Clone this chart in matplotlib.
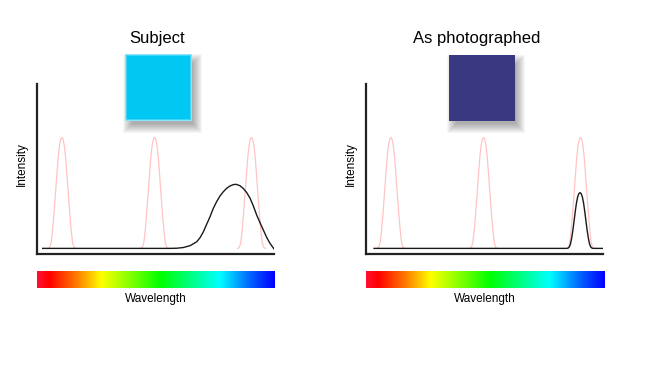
import matplotlib
matplotlib.use("Agg")
import matplotlib.pyplot as plt
import numpy as np
from matplotlib.patches import Rectangle
from matplotlib.colors import LinearSegmentedColormap

plt.rcParams['font.family'] = ['Liberation Sans', 'DejaVu Sans']

# data (wavelength 0-100, intensity 0-100)
titles = ["Subject", "As photographed"]
swatch_colors = ["#00c8f2", "#3a3880"]

# three narrow filter curves (pink), same shape at each center
filter_centers = [10.5, 49.6, 90.5]
filter_offsets = [-6, -5.5, -5, -4.5, -4, -3.5, -3, -2.5, -2, -1.5, -1, -0.5, 0,
                  0.5, 1, 1.5, 2, 2.5, 3, 3.5, 4, 4.5, 5, 5.5, 6]
filter_levels = [3.3, 3.5, 4.3, 7, 13, 21, 30, 39.5, 49, 58, 64, 67.5, 68.6,
                 67.5, 64, 58, 49, 39.5, 30, 21, 13, 7, 4.3, 3.5, 3.3]

# spectrum of the subject (broad peak)
subject_x = [2.4, 56, 59, 61.7, 64.6, 67.4, 68.8, 70.2, 71.6, 73.0, 74.4, 75.8,
             77.2, 78.6, 80.0, 81.4, 82.8, 84.0, 85.6, 87.0, 88.5, 89.9, 91.3,
             92.7, 94.1, 95.5, 96.9, 98.3, 100]
subject_y = [3.3, 3.3, 3.4, 3.8, 4.9, 7.2, 9.6, 13.1, 17.5, 21.9, 26.9, 30.8,
             34.1, 36.6, 38.6, 40.0, 40.8, 41.0, 40.2, 38.6, 36.1, 32.8, 28.2,
             22.9, 18.4, 14.1, 9.8, 6.3, 3.0]

# spectrum as photographed (only what passes the blue filter)
photo_x = [3.4, 84.8, 85.3, 85.8, 86.3, 86.8, 87.3, 87.8, 88.3, 88.8, 89.3,
           89.8, 90.3, 90.8, 91.3, 91.8, 92.3, 92.8, 93.3, 93.8, 94.3, 94.8,
           95.3, 95.8, 100]
photo_y = [3.3, 3.3, 3.5, 4.2, 6, 9.5, 14, 19.5, 25, 30, 33.5, 35.5, 36.1,
           35.5, 33.5, 30, 25, 19.5, 14, 9.5, 6, 4.2, 3.5, 3.3, 3.3]

curves = [(subject_x, subject_y), (photo_x, photo_y)]

spectrum_stops = [(0.0, "#ff1030"), (0.05, "#ff0000"), (0.17, "#ff8000"),
                  (0.27, "#ffff00"), (0.52, "#00ff00"), (0.77, "#00ffff"),
                  (0.9, "#0060ff"), (1.0, "#0000ff")]

W, H = 650, 366
fig = plt.figure(figsize=(W / 100, H / 100), dpi=100)
fig.patch.set_facecolor("white")

# overlay in pixel units for the colour swatches
deco = fig.add_axes((0, 0, 1, 1))
deco.set_xlim(0, W)
deco.set_ylim(H, 0)
deco.axis("off")

spec_cmap = LinearSegmentedColormap.from_list("spec", spectrum_stops)
grad = np.linspace(0, 1, 512).reshape(1, -1)

panel_left = [37, 366]
title_x = [157, 477]
swatch_box = [(125, 54, 67, 67), (449, 55, 66, 66)]

for i in range(2):
    L = panel_left[i]
    ax = fig.add_axes((L / W, 1 - 254 / H, 237 / W, 170 / H))
    ax.set_xlim(0, 100)
    ax.set_ylim(0, 100)
    ax.patch.set_alpha(0)
    for s in ["top", "right"]:
        ax.spines[s].set_visible(False)
    for s in ["left", "bottom"]:
        ax.spines[s].set_color("#222222")
        ax.spines[s].set_linewidth(1.6)
    ax.set_xticks([])
    ax.set_yticks([])

    for c in filter_centers:
        ax.plot([c + o for o in filter_offsets], filter_levels,
                color="#ffc4c4", lw=0.9, solid_capstyle="round")
    cx, cy = curves[i]
    ax.plot(cx, cy, color="#1a1a1a", lw=1.0)

    # spectrum bar
    sax = fig.add_axes((L / W, 1 - 288 / H, 238 / W, 17 / H))
    sax.imshow(grad, aspect="auto", cmap=spec_cmap, extent=(0, 1, 0, 1))
    sax.axis("off")

    fig.text((L + 119) / W, 1 - 299 / H, "Wavelength", ha="center",
             va="center", fontsize=8.5)
    fig.text((L - 15) / W, 1 - 164 / H, "Intensity", ha="center",
             va="center", rotation=90, fontsize=8.5)
    fig.text(title_x[i] / W, 1 - 38 / H, titles[i], ha="center",
             va="center", fontsize=12)

    # swatch with soft drop shadow
    x0, y0, w, h = swatch_box[i]
    for r in [6, 5, 4, 3, 2, 1, 0, -1, -2, -3]:
        deco.add_patch(Rectangle((x0 + 4 - r, y0 + 6 - r), w + 2 * r, h + 2 * r,
                                 facecolor="black", edgecolor="none", alpha=0.035))
    if i == 0:
        deco.add_patch(Rectangle((x0, y0), w, h, facecolor="#8ae4fa", edgecolor="none"))
        deco.add_patch(Rectangle((x0 + 1, y0 + 1), w - 2, h - 2, facecolor="#40d4f6", edgecolor="none"))
        deco.add_patch(Rectangle((x0 + 2, y0 + 2), w - 4, h - 4, facecolor=swatch_colors[i], edgecolor="none"))
    else:
        deco.add_patch(Rectangle((x0, y0), w, h, facecolor=swatch_colors[i], edgecolor="none"))

fig.savefig("out.png", dpi=100, facecolor="white")
